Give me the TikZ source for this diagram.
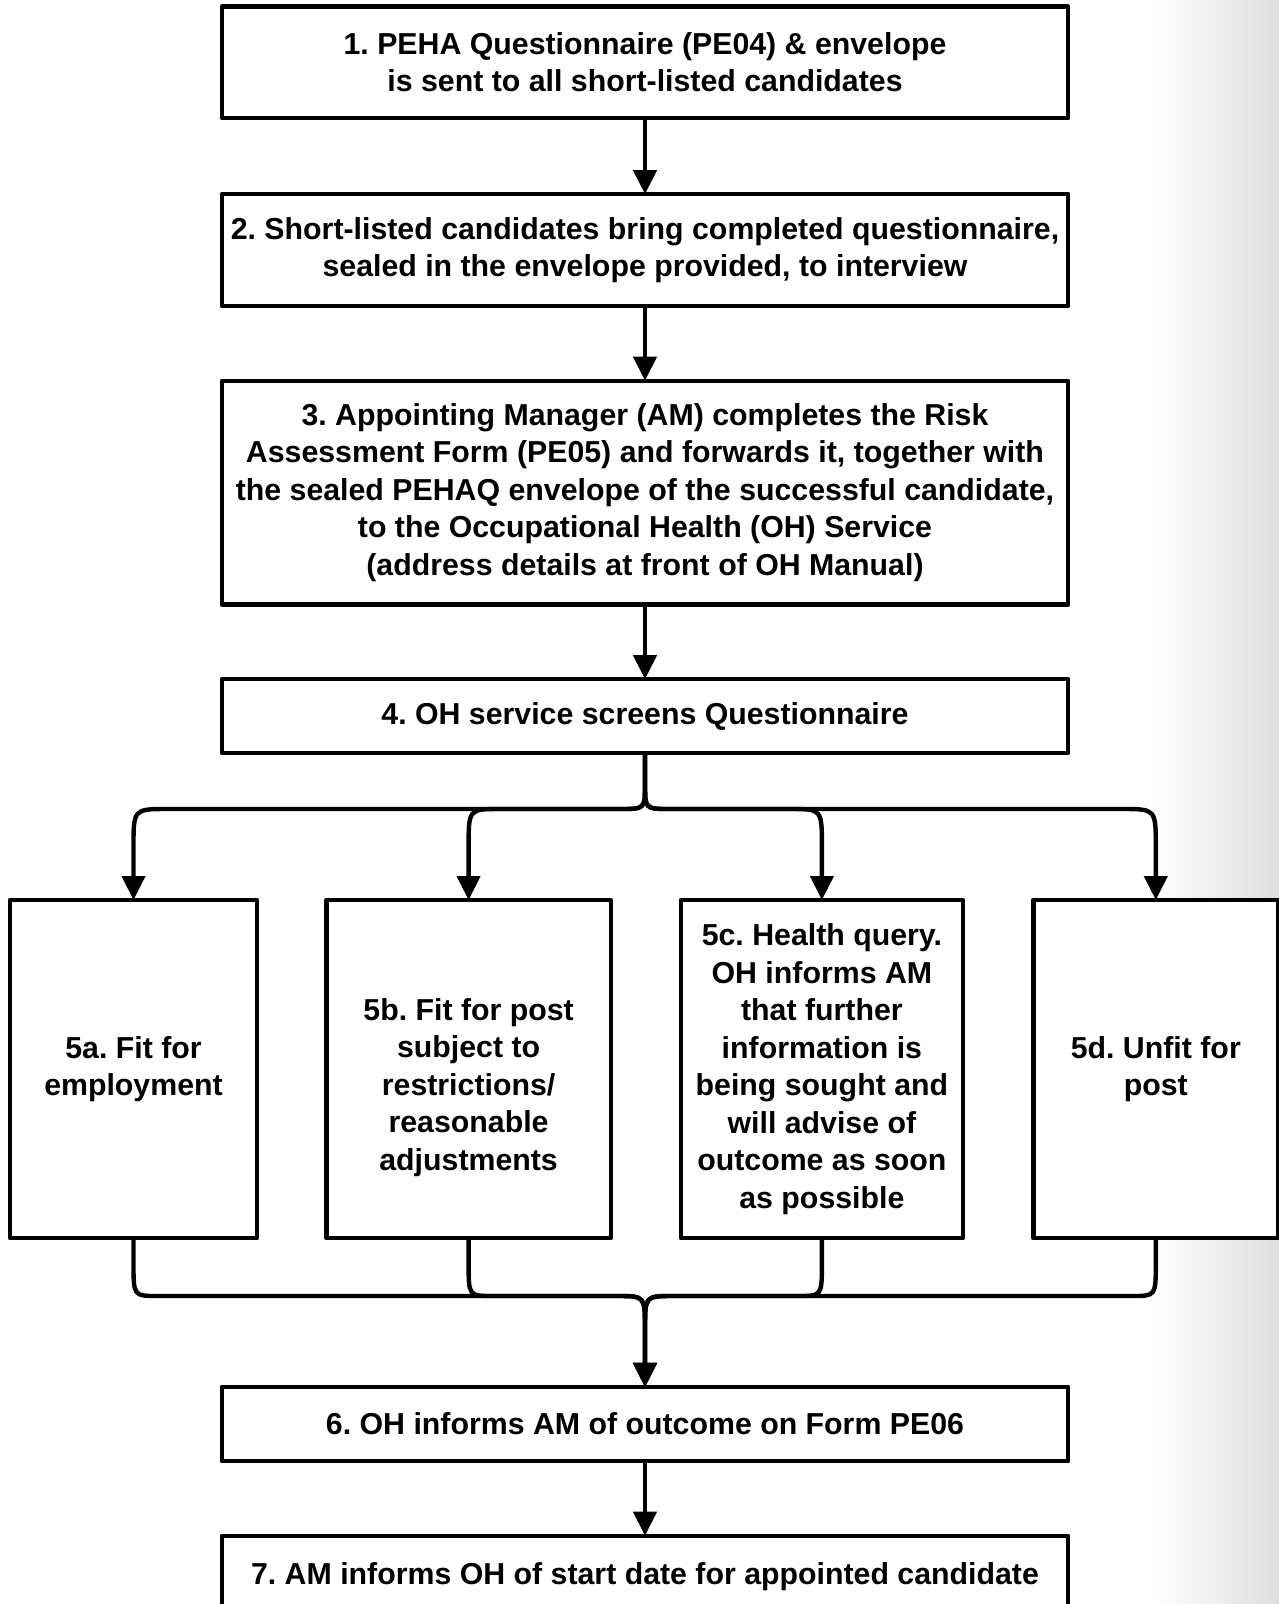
\documentclass[tikz,border=0pt]{standalone}
\usepackage{fontspec}
\setmainfont{Liberation Sans}
\usetikzlibrary{arrows.meta,calc}
\tikzset{
  box/.style={draw=black, line width=4.4pt, line join=round, fill=white, inner sep=0pt, outer sep=0pt,
    align=center, font=\frenchspacing\bfseries\fontsize{30.3}{37.5}\selectfont},
  wide/.style={box, minimum width=846.5pt},
  tall/.style={box, minimum height=338pt},
  conn/.style={line width=4.4pt, draw=black},
  arr/.style={conn, -{Triangle[width=23pt,length=24pt]}},
}
\begin{document}
\begin{tikzpicture}[x=1pt,y=-1pt]
\useasboundingbox (0,0) rectangle (1279,1604);
\shade[left color=white, right color=gray!25] (1150,0) rectangle (1279,1604);

\node[wide, minimum height=111.3pt] (n1) at (645,62.3) {1. PEHA Questionnaire (PE04) \& envelope\\is sent to all short-listed candidates};
\node[wide, minimum height=111.7pt] (n2) at (645,250) {2. Short-listed candidates bring completed questionnaire,\\sealed in the envelope provided, to interview};
\node[wide, minimum height=223.6pt] (n3) at (645,492.5) {3. Appointing Manager (AM) completes the Risk\\Assessment Form (PE05) and forwards it, together with\\the sealed PEHAQ envelope of the successful candidate,\\to the Occupational Health (OH) Service\\(address details at front of OH Manual)};
\node[wide, minimum height=73.7pt] (n4) at (645,716) {4. OH service screens Questionnaire};

\node[tall, minimum width=247pt] (n5a) at (133.5,1069) {5a. Fit for\\employment};
\node[tall, minimum width=284.4pt] (n5b) at (468.6,1069) {\rule{0pt}{59pt}5b. Fit for post\\subject to\\restrictions/\\reasonable\\adjustments};
\node[tall, minimum width=282.3pt] (n5c) at (821.9,1069) {5c. Health query.\\OH informs AM\\that further\\information is\\being sought and\\will advise of\\outcome as soon\\as possible};
\node[tall, minimum width=245pt] (n5d) at (1155.8,1069) {5d. Unfit for\\post};

\node[wide, minimum height=74.3pt] (n6) at (645,1424) {6. OH informs AM of outcome on Form PE06};
\node[wide, minimum height=81.2pt] (n7) at (645,1576.3) {7. AM informs OH of start date for appointed candidate};

\draw[arr] (n1.south) -- (n2.north);
\draw[arr] (n2.south) -- (n3.north);
\draw[arr] (n3.south) -- (n4.north);
\draw[arr] (n6.south) -- (n7.north);

\coordinate (br) at (645,809);
\coordinate (mg) at (645,1296);

% branches out of box 4
\draw[arr] (n4.south) -- ($(br)+(0,-24)$) .. controls (br) .. ($(br)+(-26,0)$)
  -- ($(br -| n5a.north)+(34,0)$) .. controls (br -| n5a.north) .. ($(br -| n5a.north)+(0,38)$) -- (n5a.north);
\draw[arr] (n4.south) -- ($(br)+(0,-24)$) .. controls (br) .. ($(br)+(-26,0)$)
  -- ($(br -| n5b.north)+(32,0)$) .. controls (br -| n5b.north) .. ($(br -| n5b.north)+(0,38)$) -- (n5b.north);
\draw[arr] (n4.south) -- ($(br)+(0,-24)$) .. controls (br) .. ($(br)+(26,0)$)
  -- ($(br -| n5c.north)+(-32,0)$) .. controls (br -| n5c.north) .. ($(br -| n5c.north)+(0,38)$) -- (n5c.north);
\draw[arr] (n4.south) -- ($(br)+(0,-24)$) .. controls (br) .. ($(br)+(26,0)$)
  -- ($(br -| n5d.north)+(-34,0)$) .. controls (br -| n5d.north) .. ($(br -| n5d.north)+(0,38)$) -- (n5d.north);

% merges into box 6
\draw[arr] (n5a.south) -- ($(mg -| n5a.south)+(0,-33)$) .. controls (mg -| n5a.south) .. ($(mg -| n5a.south)+(24,0)$)
  -- ($(mg)+(-28,0)$) .. controls (mg) .. ($(mg)+(0,33)$) -- (n6.north);
\draw[arr] (n5b.south) -- ($(mg -| n5b.south)+(0,-33)$) .. controls (mg -| n5b.south) .. ($(mg -| n5b.south)+(24,0)$)
  -- ($(mg)+(-28,0)$) .. controls (mg) .. ($(mg)+(0,33)$) -- (n6.north);
\draw[arr] (n5c.south) -- ($(mg -| n5c.south)+(0,-33)$) .. controls (mg -| n5c.south) .. ($(mg -| n5c.south)+(-24,0)$)
  -- ($(mg)+(28,0)$) .. controls (mg) .. ($(mg)+(0,33)$) -- (n6.north);
\draw[arr] (n5d.south) -- ($(mg -| n5d.south)+(0,-33)$) .. controls (mg -| n5d.south) .. ($(mg -| n5d.south)+(-24,0)$)
  -- ($(mg)+(28,0)$) .. controls (mg) .. ($(mg)+(0,33)$) -- (n6.north);
\end{tikzpicture}
\end{document}
